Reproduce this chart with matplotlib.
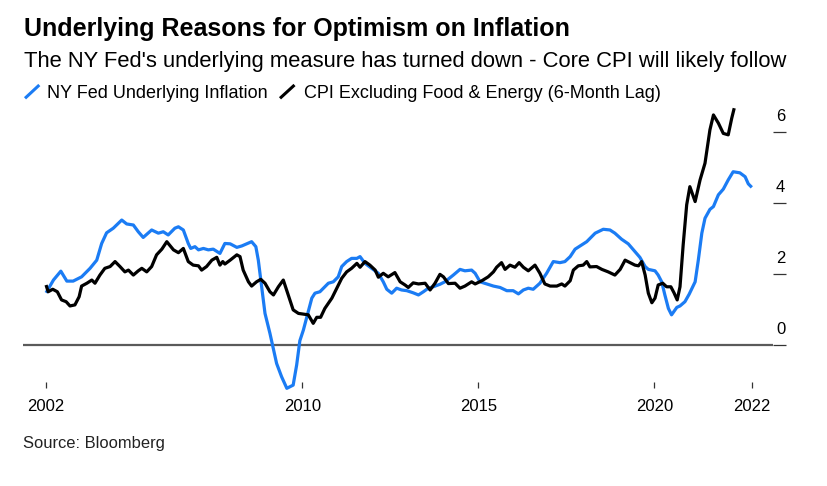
import matplotlib
matplotlib.use("Agg")
import matplotlib.pyplot as plt
from matplotlib.lines import Line2D
import matplotlib.transforms as mtransforms

plt.rcParams['font.family'] = ['Liberation Sans', 'DejaVu Sans']

# ---------------- data (decimal years, percent) ----------------
nyfed_t = [2002.72, 2002.93, 2003.14, 2003.31, 2003.49, 2003.73, 2003.97, 2004.16, 2004.30, 2004.44,
           2004.63, 2004.87, 2005.01, 2005.20, 2005.34, 2005.48, 2005.72, 2005.91, 2006.05, 2006.19,
           2006.38, 2006.48, 2006.62, 2006.76, 2006.83, 2006.95, 2007.05, 2007.19, 2007.33, 2007.47,
           2007.66, 2007.80, 2007.95, 2008.14, 2008.28, 2008.42, 2008.56, 2008.68, 2008.75, 2008.82,
           2008.94, 2009.08, 2009.27, 2009.41, 2009.56, 2009.74, 2009.84, 2009.93, 2010.03, 2010.13,
           2010.27, 2010.36, 2010.50, 2010.60, 2010.74, 2010.88, 2011.02, 2011.12, 2011.26, 2011.40,
           2011.55, 2011.64, 2011.78, 2011.97, 2012.16, 2012.30, 2012.40, 2012.54, 2012.68, 2012.82,
           2012.97, 2013.15, 2013.30, 2013.44, 2013.58, 2013.72, 2013.91, 2014.05, 2014.29, 2014.48,
           2014.62, 2014.81, 2014.91, 2015.05, 2015.24, 2015.43, 2015.62, 2015.81, 2015.99, 2016.14,
           2016.28, 2016.42, 2016.56, 2016.75, 2016.94, 2017.13, 2017.32, 2017.46, 2017.61, 2017.75,
           2017.89, 2018.08, 2018.32, 2018.55, 2018.74, 2018.88, 2019.07, 2019.26, 2019.45, 2019.59,
           2019.74, 2019.83, 2020.02, 2020.11, 2020.21, 2020.30, 2020.40, 2020.49, 2020.64, 2020.73,
           2020.87, 2020.99, 2021.16, 2021.25, 2021.35, 2021.44, 2021.58, 2021.68, 2021.82, 2021.96,
           2022.10, 2022.24, 2022.43, 2022.58, 2022.67, 2022.77]
nyfed_v = [1.47, 1.83, 2.08, 1.80, 1.80, 1.92, 2.16, 2.39, 2.86, 3.16,
           3.29, 3.52, 3.41, 3.38, 3.19, 3.03, 3.24, 3.15, 3.19, 3.10,
           3.29, 3.33, 3.24, 2.86, 2.72, 2.77, 2.68, 2.72, 2.68, 2.70,
           2.58, 2.86, 2.85, 2.75, 2.79, 2.85, 2.91, 2.77, 2.39, 1.83,
           0.89, 0.33, -0.52, -0.89, -1.22, -1.13, -0.56, 0.12, 0.42, 0.80,
           1.32, 1.46, 1.50, 1.60, 1.74, 1.78, 1.92, 2.21, 2.35, 2.44,
           2.44, 2.49, 2.30, 2.16, 2.02, 1.78, 1.57, 1.46, 1.60, 1.55,
           1.53, 1.47, 1.41, 1.50, 1.60, 1.64, 1.71, 1.78, 1.97, 2.13,
           2.09, 2.11, 2.02, 1.78, 1.72, 1.66, 1.62, 1.53, 1.53, 1.44,
           1.55, 1.60, 1.57, 1.74, 2.02, 2.35, 2.32, 2.35, 2.49, 2.70,
           2.79, 2.91, 3.15, 3.26, 3.24, 3.15, 2.98, 2.85, 2.63, 2.47,
           2.21, 2.13, 2.09, 1.97, 1.78, 1.41, 1.03, 0.85, 1.06, 1.10,
           1.22, 1.43, 1.78, 2.39, 3.15, 3.57, 3.82, 3.90, 4.23, 4.39,
           4.65, 4.88, 4.85, 4.74, 4.54, 4.44]

cpi_t = [2002.72, 2002.78, 2002.91, 2003.04, 2003.16, 2003.29, 2003.40, 2003.54, 2003.66, 2003.73,
         2003.88, 2004.02, 2004.11, 2004.25, 2004.39, 2004.54, 2004.68, 2004.82, 2004.96, 2005.06,
         2005.20, 2005.34, 2005.44, 2005.58, 2005.72, 2005.86, 2006.01, 2006.15, 2006.24, 2006.34,
         2006.48, 2006.62, 2006.76, 2006.90, 2007.05, 2007.14, 2007.28, 2007.43, 2007.57, 2007.66,
         2007.74, 2007.80, 2007.95, 2008.14, 2008.23, 2008.32, 2008.47, 2008.56, 2008.70, 2008.82,
         2008.94, 2009.08, 2009.18, 2009.32, 2009.46, 2009.60, 2009.74, 2009.89, 2010.03, 2010.17,
         2010.31, 2010.41, 2010.52, 2010.64, 2010.84, 2010.98, 2011.12, 2011.26, 2011.40, 2011.55,
         2011.64, 2011.78, 2011.92, 2012.07, 2012.16, 2012.30, 2012.44, 2012.63, 2012.78, 2012.92,
         2013.01, 2013.15, 2013.30, 2013.49, 2013.63, 2013.77, 2013.91, 2014.01, 2014.15, 2014.34,
         2014.48, 2014.62, 2014.81, 2014.91, 2015.10, 2015.28, 2015.43, 2015.52, 2015.66, 2015.76,
         2015.90, 2016.04, 2016.16, 2016.28, 2016.42, 2016.61, 2016.75, 2016.89, 2017.04, 2017.23,
         2017.37, 2017.46, 2017.61, 2017.70, 2017.84, 2017.98, 2018.08, 2018.17, 2018.36, 2018.51,
         2018.69, 2018.88, 2019.03, 2019.17, 2019.31, 2019.45, 2019.55, 2019.64, 2019.74, 2019.83,
         2019.93, 2020.02, 2020.11, 2020.24, 2020.35, 2020.47, 2020.56, 2020.65, 2020.73, 2020.82,
         2020.92, 2021.01, 2021.16, 2021.30, 2021.44, 2021.58, 2021.68, 2021.82, 2021.96, 2022.10,
         2022.20, 2022.27]
cpi_v = [1.69, 1.50, 1.57, 1.50, 1.27, 1.22, 1.10, 1.13, 1.36, 1.66,
         1.74, 1.83, 1.74, 1.97, 2.16, 2.21, 2.35, 2.21, 2.06, 2.11,
         1.97, 2.09, 2.16, 2.06, 2.21, 2.54, 2.70, 2.91, 2.80, 2.68,
         2.60, 2.72, 2.35, 2.25, 2.23, 2.11, 2.21, 2.39, 2.47, 2.25,
         2.35, 2.28, 2.39, 2.54, 2.49, 2.11, 1.78, 1.66, 1.78, 1.85,
         1.74, 1.50, 1.41, 1.64, 1.83, 1.41, 0.99, 0.89, 0.87, 0.85,
         0.61, 0.78, 0.78, 1.03, 1.32, 1.60, 1.88, 2.06, 2.16, 2.30,
         2.19, 2.35, 2.25, 2.11, 1.91, 2.02, 1.92, 2.04, 1.78, 1.69,
         1.62, 1.75, 1.72, 1.74, 1.55, 1.74, 1.99, 1.92, 1.73, 1.74,
         1.60, 1.66, 1.78, 1.72, 1.81, 1.92, 2.06, 2.19, 2.32, 2.13,
         2.25, 2.19, 2.32, 2.19, 2.09, 2.25, 2.02, 1.72, 1.66, 1.66,
         1.72, 1.66, 1.81, 2.11, 2.23, 2.25, 2.35, 2.20, 2.21, 2.13,
         2.06, 1.97, 2.13, 2.39, 2.32, 2.25, 2.23, 2.35, 1.97, 1.46,
         1.19, 1.32, 1.69, 1.74, 1.64, 1.64, 1.47, 1.27, 1.64, 2.82,
         3.95, 4.46, 4.04, 4.65, 5.12, 6.06, 6.48, 6.25, 5.96, 5.92,
         6.39, 6.67]

y_ticks = [0, 2, 4, 6]
x_tick_years = ["2002", "2010", "2015", "2020", "2022"]
title = "Underlying Reasons for Optimism on Inflation"
subtitle = "The NY Fed's underlying measure has turned down - Core CPI will likely follow"
legend_labels = ["NY Fed Underlying Inflation", "CPI Excluding Food & Energy (6-Month Lag)"]
source = "Source: Bloomberg"

BLUE = "#1b7cf4"
BLACK = "#000000"
GRAY = "#5a5a5a"

W, H = 828, 486
fig = plt.figure(figsize=(W / 100, H / 100), dpi=100)
fig.patch.set_facecolor("white")

def fx(px):
    return px / W

def fy(py):
    return (H - py) / H

ax = fig.add_axes([fx(23), fy(382), fx(773) - fx(23), fy(100) - fy(382)])
ax.set_xlim(2002.065, 2023.372)
ax.set_ylim(-1.042, 6.901)
for s in ax.spines.values():
    s.set_visible(False)

ax.axhline(0, color=GRAY, lw=1.6, zorder=1)
ax.plot(nyfed_t, nyfed_v, color=BLUE, lw=2.3, solid_joinstyle="round", solid_capstyle="butt",
        clip_on=False, zorder=3)
ax.plot(cpi_t, cpi_v, color=BLACK, lw=2.3, solid_joinstyle="round", solid_capstyle="butt",
        clip_on=False, zorder=4)

# x ticks: first and last data point labeled with the year
xt = [nyfed_t[0], 2010, 2015, 2020, nyfed_t[-1]]
ax.set_xticks(xt)
ax.set_xticklabels(x_tick_years)
ax.tick_params(axis="x", direction="out", length=4.5, width=0.9, color="#333333",
               labelsize=12, pad=7.5, labelcolor="black")

# y ticks on the right: dashes with labels above them
ax.yaxis.tick_right()
ax.set_yticks(y_ticks)
ax.tick_params(axis="y", direction="out", length=9.4, width=0.9, color="#333333",
               labelright=False, labelleft=False, left=False)
lab_tr = mtransforms.blended_transform_factory(ax.transAxes, ax.transData) + \
    mtransforms.ScaledTranslation(0, 11 / 100, fig.dpi_scale_trans)
for v in y_ticks:
    ax.text((780.7 - 23) / 750, v, str(v), transform=lab_tr, ha="center", va="baseline",
            fontsize=12, color="black")

# header texts
renderer = fig.canvas.get_renderer()

def fit(t, target_px):
    w = t.get_window_extent(renderer).width
    t.set_fontsize(t.get_fontsize() * target_px / w)

t1 = fig.text(fx(24), fy(36), title, fontsize=16, fontweight="bold", ha="left", va="baseline")
fit(t1, 546)
t2 = fig.text(fx(24), fy(66.7), subtitle, fontsize=13, ha="left", va="baseline")
fit(t2, 763)
l1 = fig.text(fx(47.3), fy(98.3), legend_labels[0], fontsize=11, ha="left", va="baseline")
fit(l1, 219)
l2 = fig.text(fx(304), fy(98.3), legend_labels[1], fontsize=11, ha="left", va="baseline")
fit(l2, 356.7)
fig.add_artist(Line2D([fx(25), fx(39.3)], [fy(98.3), fy(85)], transform=fig.transFigure,
                      color=BLUE, lw=2.2, solid_capstyle="butt"))
fig.add_artist(Line2D([fx(280), fx(294.5)], [fy(98.3), fy(85)], transform=fig.transFigure,
                      color=BLACK, lw=2.2, solid_capstyle="butt"))
s1 = fig.text(fx(23.5), fy(448), source, fontsize=10.5, ha="left", va="baseline", color="#222222")
fit(s1, 142.7)

fig.savefig("out.png", dpi=100)
